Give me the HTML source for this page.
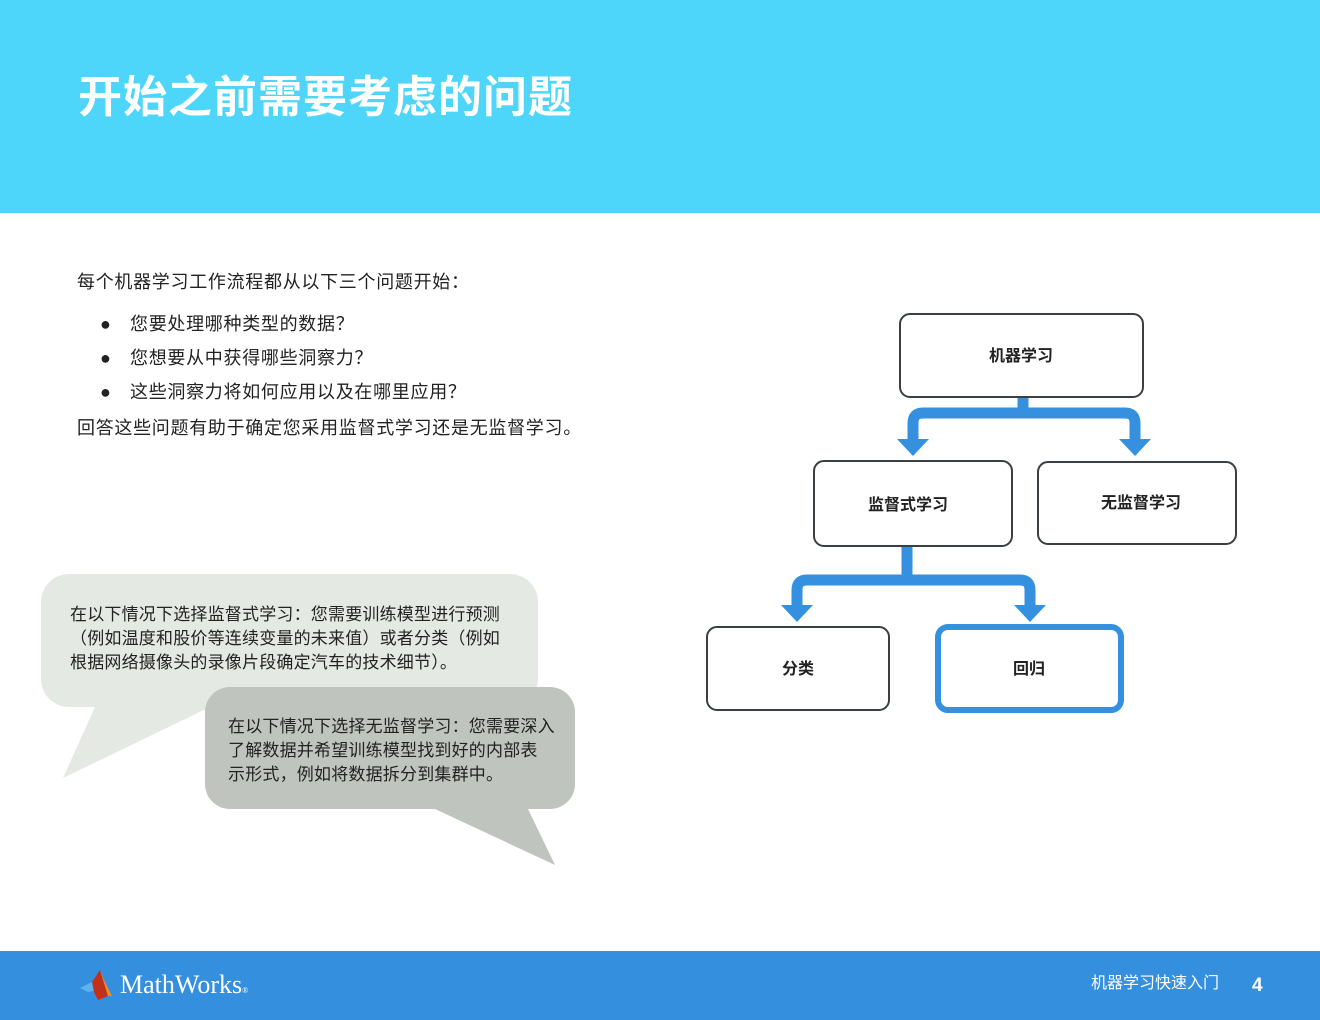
<!DOCTYPE html>
<html><head><meta charset="utf-8"><style>
body{margin:0;width:1320px;height:1020px;position:relative;background:#fff;overflow:hidden;font-family:"Liberation Sans","Noto Sans CJK SC",sans-serif;color:#222}
.t{position:absolute;white-space:nowrap;line-height:1}
.b{letter-spacing:0.7px}
</style></head><body>
<div style="position:absolute;left:0;top:0;width:1320px;height:213px;background:#4dd6fa"></div>
<div class="t" style="left:78px;top:76px;font-size:44px;font-weight:bold;color:#fff;letter-spacing:1px">开始之前需要考虑的问题</div>
<div class="t b" style="left:77px;top:273px;font-size:18px">每个机器学习工作流程都从以下三个问题开始：</div>
<div class="t" style="left:100px;top:315px;font-size:18px">●</div>
<div class="t b" style="left:130px;top:315px;font-size:18px">您要处理哪种类型的数据？</div>
<div class="t" style="left:100px;top:349px;font-size:18px">●</div>
<div class="t b" style="left:130px;top:349px;font-size:18px">您想要从中获得哪些洞察力？</div>
<div class="t" style="left:100px;top:383px;font-size:18px">●</div>
<div class="t b" style="left:130px;top:383px;font-size:18px">这些洞察力将如何应用以及在哪里应用？</div>
<div class="t b" style="left:77px;top:419px;font-size:18px">回答这些问题有助于确定您采用监督式学习还是无监督学习。</div>

<svg width="1320" height="1020" style="position:absolute;left:0;top:0">
<path d="M69,574 H510 A28,28 0 0 1 538,602 V679 A28,28 0 0 1 510,707 H210 L63,778 L95,707 H69 A28,28 0 0 1 41,679 V602 A28,28 0 0 1 69,574Z" fill="#e5e9e3"/>
<path d="M230,687 H550 A25,25 0 0 1 575,712 V784 A25,25 0 0 1 550,809 H528 L555,865 L435,809 H230 A25,25 0 0 1 205,784 V712 A25,25 0 0 1 230,687Z" fill="#c0c4be"/>
<g fill="none" stroke="#3591e0" stroke-width="11">
<path d="M1023,397 V413"/>
<path d="M913,442 V423 Q913,413 923,413 H1125 Q1135,413 1135,423 V442"/>
<path d="M907,546 V580"/>
<path d="M797,608 V590 Q797,580 807,580 H1020 Q1030,580 1030,590 V608"/>
</g>
<g fill="#3591e0">
<polygon points="897,439 929,439 913,456"/>
<polygon points="1119,439 1151,439 1135,456"/>
<polygon points="781,605 813,605 797,622"/>
<polygon points="1014,605 1046,605 1030,622"/>
</g>
<g fill="#fff" stroke="#3a3f44" stroke-width="2">
<rect x="900" y="314" width="243" height="83" rx="10"/>
<rect x="814" y="461" width="198" height="85" rx="10"/>
<rect x="1038" y="462" width="198" height="82" rx="10"/>
<rect x="707" y="627" width="182" height="83" rx="10"/>
</g>
<rect x="938" y="627" width="183" height="83" rx="10" fill="#fff" stroke="#3591e0" stroke-width="6"/>
<g font-family="Liberation Sans,Noto Sans CJK SC,sans-serif" font-size="16" font-weight="bold" fill="#222" text-anchor="middle">
<text x="1021" y="361">机器学习</text>
<text x="908" y="510">监督式学习</text>
<text x="1141" y="508">无监督学习</text>
<text x="798" y="674">分类</text>
<text x="1029" y="674">回归</text>
</g>
</svg>

<div class="t" style="left:70px;top:603px;font-size:17px;line-height:24px;letter-spacing:0.2px">在以下情况下选择监督式学习：您需要训练模型进行预测<br>（例如温度和股价等连续变量的未来值）或者分类（例如<br>根据网络摄像头的录像片段确定汽车的技术细节）。</div>
<div class="t" style="left:228px;top:715px;font-size:17px;line-height:24px;letter-spacing:0.2px">在以下情况下选择无监督学习：您需要深入<br>了解数据并希望训练模型找到好的内部表<br>示形式，例如将数据拆分到集群中。</div>

<div style="position:absolute;left:0;top:951px;width:1320px;height:69px;background:#348fdf"></div>
<svg width="40" height="40" style="position:absolute;left:78px;top:966px">
<polygon points="2,22 14,16 20,24 10,26" fill="#5ab4f0"/>
<polygon points="14,16 22,4 30,30 20,34 16,26" fill="#c0301a"/>
<polygon points="22,4 26,14 34,30 30,30" fill="#f08a20"/>
</svg>
<div class="t" style="left:120px;top:972px;font-size:26px;color:#fff;font-family:'Liberation Serif',serif">MathWorks<span style="font-size:8px">®</span></div>
<div class="t" style="left:1091px;top:976px;font-size:16px;color:#fff">机器学习快速入门</div>
<div class="t" style="left:1252px;top:976px;font-size:19px;color:#fff;font-weight:bold">4</div>
</body></html>
